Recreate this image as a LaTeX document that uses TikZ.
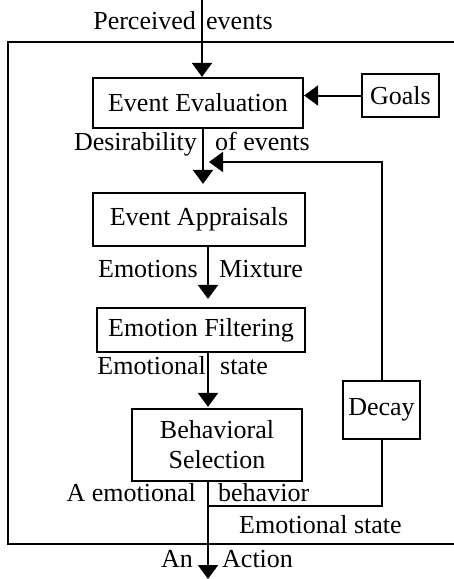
\documentclass[tikz,border=0pt]{standalone}
\usepackage{fontspec}
\setmainfont{Liberation Serif}
\usetikzlibrary{arrows.meta,calc}
\newcommand{\fs}{\fontsize{26}{30}\selectfont}
\begin{document}
\begin{tikzpicture}[x=1pt,y=-1pt,
  box/.style={draw,line width=2.2pt,inner sep=0pt,font=\fs,align=center},
  lab/.style={inner sep=0pt,font=\fs},
  arr/.style={line width=2pt,-{Triangle[width=20pt,length=14pt]}},
  ln/.style={line width=2pt}]
\useasboundingbox (0,0) rectangle (454,579);
\draw[line width=1.3pt] (454,42) -- (8,42) -- (8,544) -- (454,544);
% boxes
\node[box,minimum width=210pt,minimum height=50pt] (ee) at (198,103) {Event Evaluation};
\node[box,minimum width=77pt,minimum height=43pt] (goals) at (400.5,95.5) {Goals};
\node[box,minimum width=212pt,minimum height=53pt] (ea) at (199,219.5) {Event Appraisals};
\node[box,minimum width=208pt,minimum height=44pt] (ef) at (201,330) {Emotion Filtering};
\node[box,minimum width=170pt,minimum height=72pt] (bs) at (217,445) {Behavioral\\Selection};
\node[box,minimum width=77pt,minimum height=58pt] (decay) at (381.5,410) {Decay};
% coordinates
\coordinate (top) at (202,0);
\coordinate (xa) at (203,0);
\coordinate (xb) at (208,0);
\coordinate (fb) at (209,162);
\coordinate (jn) at (208,506);
\coordinate (out) at (208,579);
% connectors
\draw[arr] (top) -- (top |- ee.north);
\draw[arr] (goals.west) -- (goals.west -| ee.east);
\draw[arr,shorten >=8pt] (ee.south -| xa) -- (ea.north -| xa);
\draw[arr,shorten >=8pt] (ea.south -| xb) -- (ef.north -| xb);
\draw[arr,shorten >=1pt] (ef.south -| xb) -- (bs.north -| xb);
\draw[arr] (bs.south -| xb) -- (out);
\draw[arr] (decay.north) |- (fb);
\draw[ln] (decay.south) |- (jn);
% labels
\node[lab,anchor=base east] (l1a) at (196,29) {Perceived};
\node[lab,anchor=base west] (l1b) at (206,29) {events};
\node[lab,anchor=base east] (l2a) at (197,150) {Desirability};
\node[lab,anchor=base west] (l2b) at (215,150) {of events};
\node[lab,anchor=base east] (l3a) at (198,277) {Emotions};
\node[lab,anchor=base west] (l3b) at (219,277) {Mixture};
\node[lab,anchor=base east] (l4a) at (206,374) {Emotional};
\node[lab,anchor=base west] (l4b) at (220,374) {state};
\node[lab,anchor=base east] (l5a) at (196,501) {A emotional};
\node[lab,anchor=base west] (l5b) at (218,501) {behavior};
\node[lab,anchor=base west] (l6) at (239,533) {Emotional state};
\node[lab,anchor=base east] (l7a) at (193,567) {An};
\node[lab,anchor=base west] (l7b) at (222,567) {Action};
\end{tikzpicture}
\end{document}
